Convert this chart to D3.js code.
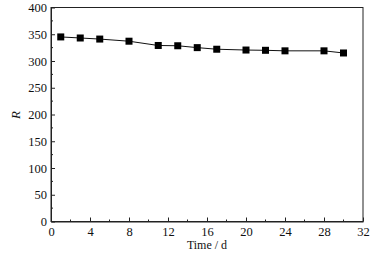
<!DOCTYPE html>
<html>
<head>
<meta charset="utf-8">
<script src="https://cdn.jsdelivr.net/npm/d3@7"></script>
<style>
  body { margin: 0; background: #fff; }
  svg text { font-family: "Liberation Serif", "DejaVu Serif", serif; fill: #111; }
</style>
</head>
<body>
<svg id="chart"></svg>
<script>
// Data
const days = [1, 3, 5, 8, 11, 13, 15, 17, 20, 22, 24, 28, 30];
const rValues = [345, 343, 341, 337, 329, 328.5, 325, 322, 320.5, 320, 319, 319, 315];
const xTicks = [0, 4, 8, 12, 16, 20, 24, 28, 32];
const yTicks = [0, 50, 100, 150, 200, 250, 300, 350, 400];

const width = 391, height = 254;
const margin = { top: 7.5, right: 28, bottom: 32.5, left: 51 };
const w = width - margin.left - margin.right;
const h = height - margin.top - margin.bottom;

const svg = d3.select('#chart')
  .attr('width', width)
  .attr('height', height);

const chart = svg.append('g')
  .attr('transform', `translate(${margin.left},${margin.top})`);

const xScale = d3.scaleLinear().domain([0, 32]).range([0, w]);
const yScale = d3.scaleLinear().domain([0, 400]).range([h, 0]);

// Frame
chart.append('rect')
  .attr('x', 0).attr('y', 0)
  .attr('width', w).attr('height', h)
  .attr('fill', 'none')
  .attr('stroke', '#222')
  .attr('stroke-width', 1);

// Axes with inward ticks
const xAxis = d3.axisBottom(xScale)
  .tickValues(xTicks)
  .tickSize(-4)
  .tickPadding(6)
  .tickSizeOuter(0);
const xAxisG = chart.append('g')
  .attr('transform', `translate(0,${h})`)
  .call(xAxis);

const yAxis = d3.axisLeft(yScale)
  .tickValues(yTicks)
  .tickSize(-4)
  .tickPadding(4)
  .tickSizeOuter(0);
const yAxisG = chart.append('g').call(yAxis);

[xAxisG, yAxisG].forEach(g => {
  g.attr('font-family', null);
  g.select('.domain').attr('stroke', '#222');
  g.selectAll('.tick line').attr('stroke', '#222');
  g.selectAll('.tick text')
    .attr('font-size', 12.5)
    .attr('fill', '#111');
});

// Minor ticks
chart.append('g').selectAll('line')
  .data(d3.range(2, 32, 4))
  .join('line')
    .attr('x1', d => xScale(d)).attr('x2', d => xScale(d))
    .attr('y1', h).attr('y2', h - 2)
    .attr('stroke', '#222');

chart.append('g').selectAll('line')
  .data(d3.range(25, 400, 50))
  .join('line')
    .attr('x1', 0).attr('x2', 2)
    .attr('y1', d => yScale(d)).attr('y2', d => yScale(d))
    .attr('stroke', '#222');

// Line + markers
const line = d3.line()
  .x((d, i) => xScale(days[i]))
  .y(d => yScale(d));

chart.append('path')
  .datum(rValues)
  .attr('d', line)
  .attr('fill', 'none')
  .attr('stroke', '#111')
  .attr('stroke-width', 1);

chart.selectAll('.marker')
  .data(rValues)
  .join('rect')
    .attr('class', 'marker')
    .attr('x', (d, i) => xScale(days[i]) - 3.5)
    .attr('y', d => yScale(d) - 3.5)
    .attr('width', 7)
    .attr('height', 7)
    .attr('fill', '#000');

// Axis titles
svg.append('text')
  .attr('x', 207)
  .attr('y', 249)
  .attr('text-anchor', 'middle')
  .attr('font-size', 12)
  .text('Time / d');

svg.append('text')
  .attr('transform', `translate(20,115) rotate(-90)`)
  .attr('text-anchor', 'middle')
  .attr('font-size', 13)
  .attr('font-style', 'italic')
  .text('R');
</script>
</body>
</html>
